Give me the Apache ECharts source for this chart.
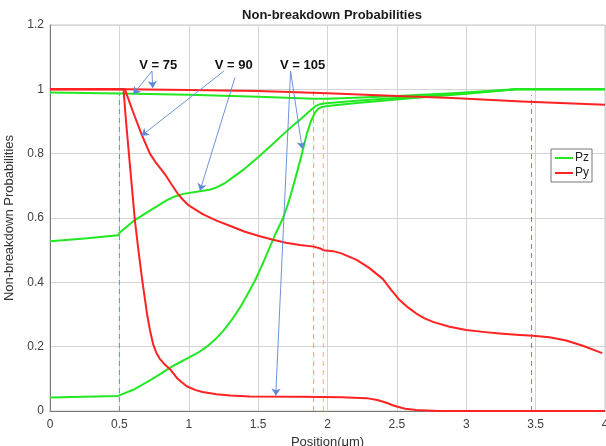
<!DOCTYPE html>
<html>
<head>
<meta charset="utf-8">
<script src="https://cdn.jsdelivr.net/npm/echarts@6/dist/echarts.min.js"></script>
<style>html,body{margin:0;padding:0;background:#fff}#c{width:606px;height:446px}</style>
</head>
<body>
<div id="c"></div>
<script>
// Pz (green) curves, [position, probability]
var pzV75 = [[0,0.99],[0.5,0.987],[1,0.983],[1.5,0.977],[1.9,0.971],[2.0,0.971],[2.2,0.974],[2.5,0.979],[2.9,0.988],[3.36,1.0],[4,1.0]];
var pzV90 = [[0,0.528],[0.25,0.536],[0.49,0.546],[0.505,0.556],[0.6,0.59],[0.72,0.623],[0.84,0.655],[0.9,0.667],[0.96,0.675],[1.08,0.683],[1.15,0.688],[1.2,0.695],[1.26,0.708],[1.32,0.727],[1.4,0.752],[1.5,0.789],[1.6,0.828],[1.68,0.86],[1.75,0.887],[1.8,0.905],[1.86,0.928],[1.91,0.947],[1.94,0.953],[1.97,0.956],[2.23,0.965],[2.6,0.976],[3.0,0.988],[3.36,1.0],[4,1.0]];
var pzV105 = [[0,0.042],[0.49,0.047],[0.6,0.066],[0.72,0.095],[0.8,0.116],[0.865,0.135],[0.93,0.15],[1.0,0.166],[1.07,0.182],[1.13,0.2],[1.19,0.222],[1.25,0.25],[1.31,0.283],[1.37,0.322],[1.42,0.36],[1.477,0.405],[1.53,0.455],[1.585,0.51],[1.63,0.555],[1.68,0.6],[1.72,0.65],[1.76,0.71],[1.81,0.79],[1.85,0.86],[1.88,0.9],[1.91,0.928],[1.935,0.94],[1.96,0.945],[2.0,0.948],[2.23,0.958],[2.6,0.972],[3.0,0.986],[3.36,1.0],[4,1.0]];
// Py (red) curves
var pyV75 = [[0,1.0],[0.55,1.0],[1.0,0.998],[1.5,0.995],[2.0,0.988],[2.5,0.979],[2.9,0.973],[3.4,0.962],[4,0.952]];
var pyV90 = [[0,1.0],[0.54,1.0],[0.6,0.928],[0.663,0.857],[0.72,0.8],[0.76,0.774],[0.8,0.752],[0.83,0.735],[0.88,0.702],[0.92,0.676],[0.96,0.656],[1.0,0.639],[1.1,0.612],[1.2,0.592],[1.3,0.575],[1.4,0.558],[1.5,0.545],[1.6,0.533],[1.7,0.523],[1.8,0.516],[1.9,0.511],[1.95,0.505],[1.97,0.5],[2.04,0.497],[2.1,0.49],[2.21,0.47],[2.3,0.445],[2.4,0.41],[2.46,0.376],[2.52,0.345],[2.58,0.322],[2.64,0.303],[2.7,0.288],[2.76,0.277],[2.88,0.262],[3.0,0.252],[3.12,0.246],[3.24,0.241],[3.36,0.237],[3.48,0.234],[3.6,0.229],[3.72,0.219],[3.84,0.203],[3.98,0.18]];
var pyV105 = [[0,1.0],[0.53,1.0],[0.548,0.9],[0.58,0.745],[0.612,0.592],[0.64,0.49],[0.665,0.406],[0.7,0.3],[0.72,0.252],[0.743,0.208],[0.765,0.182],[0.79,0.163],[0.82,0.148],[0.865,0.13],[0.92,0.1],[0.985,0.077],[1.05,0.065],[1.1,0.059],[1.2,0.052],[1.3,0.048],[1.44,0.045],[1.8,0.044],[2.1,0.043],[2.28,0.04],[2.36,0.034],[2.43,0.025],[2.47,0.018],[2.505,0.013],[2.56,0.007],[2.64,0.003],[2.8,0.0],[4,0.0]];

// dashed vertical markers
var vlineX = [0.5, 1.9, 1.97, 3.47];
var vlineTop = [0.985, 1.0, 0.985, 0.982];
var vlineColor = ['#5f95d0', '#ec9a78', '#f0bf55', '#9370c4'];

// annotations
var annoText = ['V = 75', 'V = 90', 'V = 105'];
var annoPos = [[0.78, 1.073], [1.324, 1.073], [1.82, 1.073]];
var arrowFrom = [[0.735,1.057],[0.735,1.057],[1.254,1.057],[1.333,1.037],[1.734,1.057],[1.734,1.057]];
var arrowTo = [[0.6,0.985],[0.74,1.004],[0.66,0.856],[1.081,0.685],[1.818,0.815],[1.627,0.048]];

var GREEN = '#22e822', RED = '#ff2222';
var FONT = 'Liberation Sans, Arial, sans-serif';

function curve(name, color, data) {
  return {
    type: 'line', name: name, data: data, symbol: 'none', showSymbol: false,
    smooth: false,
    lineStyle: { color: color, width: 2, join: 'round' }, itemStyle: { color: color },
    animation: false, z: 3
  };
}

var vlineSeries = vlineX.map(function (x, i) {
  return {
    type: 'line', name: 'marker' + i, data: [[x, 0], [x, vlineTop[i]]],
    symbol: 'none', showSymbol: false, silent: true, animation: false, z: 2,
    lineStyle: { color: vlineColor[i], width: 1, type: [5, 4] }
  };
});

var markLines = [];
for (var j = 0; j < arrowFrom.length; j++) {
  markLines.push([
    { coord: arrowFrom[j], lineStyle: { color: '#5b88d6', width: 0.9, type: 'solid', opacity: 1 }, symbol: 'none' },
    { coord: arrowTo[j], symbol: 'arrow' }
  ]);
}
var markPts = annoText.map(function (t, k) {
  return { coord: annoPos[k], value: t };
});

var option = {
  backgroundColor: '#ffffff',
  animation: false,
  title: {
    text: 'Non-breakdown Probabilities', left: 327, textAlign: 'center', top: 4,
    textStyle: { fontFamily: FONT, fontSize: 13, fontWeight: 'bold', color: '#1a1a1a' }
  },
  legend: {
    data: ['Pz', 'Py'], orient: 'vertical', left: 551, top: 149,
    icon: 'rect', itemWidth: 18, itemHeight: 2, itemGap: 3,
    padding: [3, 3, 3, 4], borderColor: '#777', borderWidth: 1, backgroundColor: '#fff',
    textStyle: { fontFamily: FONT, fontSize: 12, color: '#222', padding: [0, 0, 0, -3] }
  },
  grid: { left: 50, right: 1, top: 25, bottom: 35, containLabel: false, outerBoundsMode: 'none', show: true, borderColor: '#c8c8c8', borderWidth: 1 },
  xAxis: {
    type: 'value', min: 0, max: 4, interval: 0.5,
    name: 'Position(μm)', nameLocation: 'middle', nameGap: 24,
    nameTextStyle: { fontFamily: FONT, fontSize: 13, color: '#333' },
    axisLine: { show: true, onZero: false, lineStyle: { color: '#7a7a7a' } },
    axisTick: { show: false },
    axisLabel: { fontFamily: FONT, fontSize: 12, color: '#404040', margin: 8 },
    splitLine: { show: true, lineStyle: { color: '#d4d4d4' } }
  },
  yAxis: {
    type: 'value', min: 0, max: 1.2, interval: 0.2,
    name: 'Non-breakdown Probabilities', nameLocation: 'middle', nameGap: 32,
    nameTextStyle: { fontFamily: FONT, fontSize: 13, color: '#333' },
    axisLine: { show: true, lineStyle: { color: '#7a7a7a' } },
    axisTick: { show: false },
    axisLabel: { fontFamily: FONT, fontSize: 12, color: '#404040', margin: 6 },
    splitLine: { show: true, lineStyle: { color: '#d4d4d4' } }
  },
  series: vlineSeries.concat([
    curve('Pz', GREEN, pzV75),
    curve('Pz', GREEN, pzV90),
    curve('Pz', GREEN, pzV105),
    curve('Py', RED, pyV75),
    curve('Py', RED, pyV90),
    curve('Py', RED, pyV105),
    {
      type: 'line', name: 'annot', data: [], symbol: 'none', silent: true, z: 4,
      markLine: {
        silent: true, animation: false, symbolSize: 7,
        label: { show: false }, data: markLines
      },
      markPoint: {
        silent: true, animation: false, symbol: 'rect', symbolSize: 1,
        itemStyle: { color: 'rgba(0,0,0,0)' },
        label: { show: true, position: 'inside', formatter: '{c}', fontFamily: FONT, fontSize: 13, fontWeight: 'bold', color: '#111' },
        data: markPts
      }
    }
  ])
};
var chart = echarts.init(document.getElementById('c'), null, { renderer: 'canvas' });
chart.setOption(option);
</script>
</body>
</html>
